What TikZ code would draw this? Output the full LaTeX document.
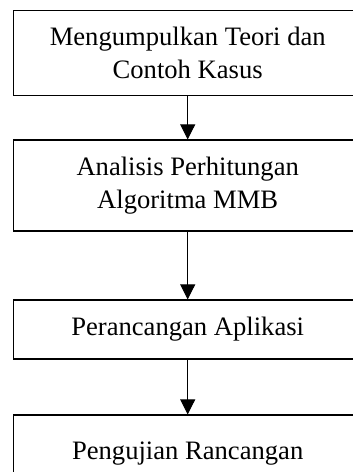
\documentclass[tikz,border=0pt]{standalone}
\usepackage{fontspec}
\setmainfont{Liberation Serif}
\usetikzlibrary{arrows.meta}
\begin{document}
\begin{tikzpicture}[x=1pt,y=-1pt,
  stepbox/.style={draw, line width=1.2pt, minimum width=348.5pt, inner sep=0pt, align=center,
    font=\fontsize{26.6}{33}\selectfont},
  flow/.style={line width=1pt, -{Triangle[width=15pt,length=15pt]}}]
\useasboundingbox (0,0) rectangle (353,472);
\clip (0,0) rectangle (353,472);
\node[stepbox, minimum height=85pt] (a) at (187.7,53.2) {Mengumpulkan Teori dan\\Contoh Kasus};
\node[stepbox, minimum height=91pt] (b) at (187.7,185.5) {Analisis Perhitungan\\Algoritma MMB};
\node[stepbox, minimum height=59pt] (c) at (187.7,329.5) {Perancangan Aplikasi};
\node[stepbox, minimum height=78pt] (d) at (187.7,454) {Pengujian Rancangan};
\draw[flow] (a) -- (b);
\draw[flow] (b) -- (c);
\draw[flow] (c) -- (d);
\end{tikzpicture}
\end{document}
